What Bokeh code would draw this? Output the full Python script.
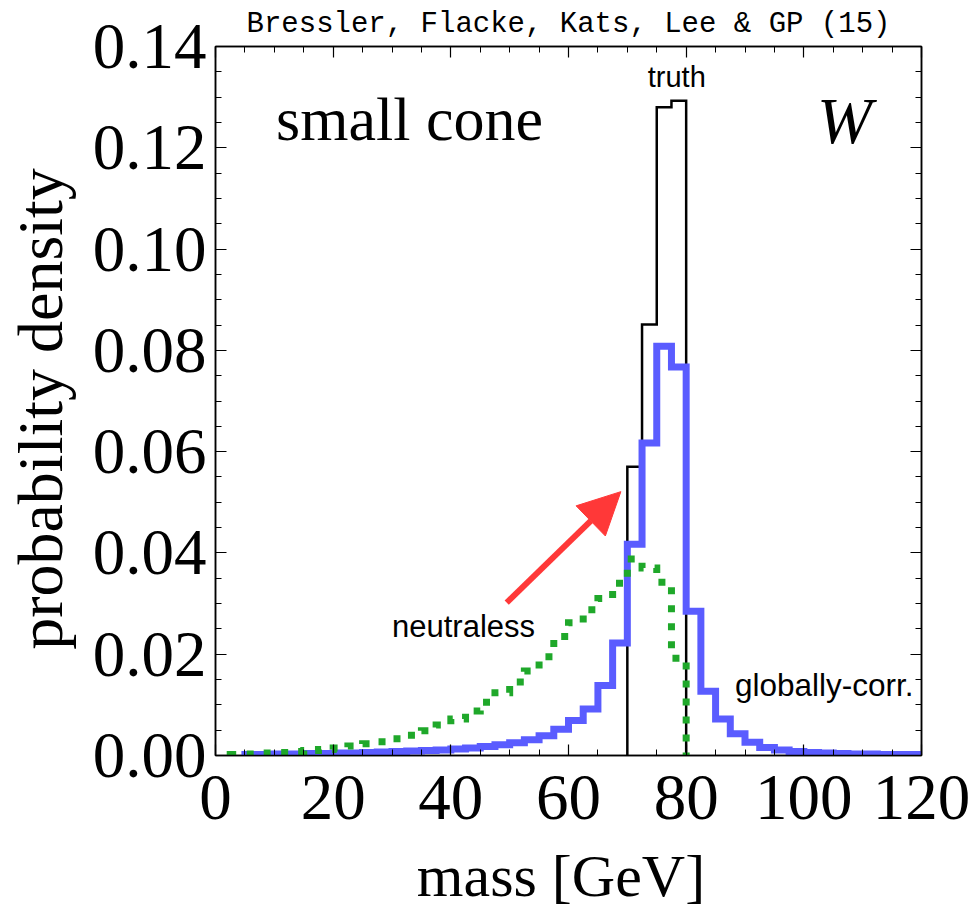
from bokeh.plotting import figure
from bokeh.models import (Range1d, LinearAxis, SingleIntervalTicker,
                          NumeralTickFormatter, Label, Arrow, NormalHead)
from bokeh.embed import file_html
from bokeh.resources import INLINE

# ---- histogram data (probability density per 2.5 GeV bin) ----
bin_width = 2.5

truth_start = 70.0
truth_vals = [0.0570, 0.0851, 0.1280, 0.1293]

glob_start = 5.0
glob_vals = [
    0.0002, 0.0002, 0.0003, 0.0003, 0.0004, 0.0004, 0.0005, 0.0005,   # 5-25
    0.0006, 0.0007, 0.0008, 0.0009, 0.0010, 0.0011, 0.0013, 0.0015,   # 25-45
    0.0018, 0.0021, 0.0025, 0.0031, 0.0039, 0.0052, 0.0069, 0.0092,   # 45-65
    0.0138, 0.0222, 0.0417, 0.0617, 0.0808, 0.0767, 0.0285, 0.0127,   # 65-85
    0.0072, 0.0043, 0.0026, 0.0016, 0.0011, 0.0008, 0.0006, 0.0005,   # 85-105
    0.0004, 0.0003, 0.0003, 0.0002, 0.0002, 0.0002,                   # 105-120
]

neutral_start = 2.5
neutral_vals = [
    0.0002, 0.0003, 0.0005, 0.0006, 0.0008, 0.0010, 0.0012, 0.0015,   # 2.5-22.5
    0.0019, 0.0023, 0.0027, 0.0033, 0.0040, 0.0049, 0.0060, 0.0072,   # 22.5-42.5
    0.0088, 0.0105, 0.0124, 0.0145, 0.0167, 0.0195, 0.0235, 0.0262,   # 42.5-62.5
    0.0288, 0.0310, 0.0340, 0.0388, 0.0370, 0.0342, 0.0192,           # 62.5-80
]

x_ticks_major = 20
y_ticks_major = 0.02


def step_outline(start, vals, width, close_right=True):
    """Histogram outline: rises from zero at the first edge, falls to zero at the last."""
    xs, ys = [start], [0.0]
    for i, v in enumerate(vals):
        left = start + i * width
        xs += [left, left + width]
        ys += [v, v]
    if close_right:
        xs.append(start + len(vals) * width)
        ys.append(0.0)
    return xs, ys


SERIF = "Liberation Serif"
SANS = "Liberation Sans"

p = figure(width=971, height=914,
           x_range=Range1d(0, 120), y_range=Range1d(0, 0.14),
           output_backend="svg", toolbar_location=None,
           min_border_left=215, min_border_right=50,
           min_border_top=45, min_border_bottom=159,
           background_fill_color="white", border_fill_color="white",
           x_axis_label="mass  [GeV]", y_axis_label="probability  density",
           title="Bressler, Flacke, Kats, Lee & GP (15)")

p.title.text_font = "Liberation Mono"
p.title.text_font_size = "29px"
p.title.text_font_style = "normal"
p.title.align = "center"
p.title.text_color = "black"
p.title.standoff = 11

p.xgrid.visible = False
p.ygrid.visible = False
p.outline_line_color = "black"
p.outline_line_width = 1.5

bottom_axis = p.below[0]
left_axis = p.left[0]
bottom_axis.ticker = SingleIntervalTicker(interval=x_ticks_major, num_minor_ticks=4)
left_axis.ticker = SingleIntervalTicker(interval=y_ticks_major, num_minor_ticks=4)
left_axis.formatter = NumeralTickFormatter(format="0.00")

top_axis = LinearAxis(ticker=SingleIntervalTicker(interval=x_ticks_major, num_minor_ticks=4))
right_axis = LinearAxis(ticker=SingleIntervalTicker(interval=y_ticks_major, num_minor_ticks=4))
p.add_layout(top_axis, "above")
p.add_layout(right_axis, "right")

for ax in [bottom_axis, left_axis, top_axis, right_axis]:
    ax.major_tick_in = 11
    ax.major_tick_out = 0
    ax.minor_tick_in = 6
    ax.minor_tick_out = 0
    ax.axis_line_color = "black"
    ax.axis_line_width = 1.5
    ax.major_tick_line_color = "black"
    ax.minor_tick_line_color = "black"
    ax.major_tick_line_width = 1.2
    ax.minor_tick_line_width = 1.0
    ax.major_label_text_font = SERIF
    ax.major_label_text_font_size = "65px"
    ax.major_label_text_color = "black"
    ax.axis_label_text_font = SERIF
    ax.axis_label_text_font_style = "normal"
    ax.axis_label_text_color = "black"

for ax in [top_axis, right_axis]:
    ax.major_label_text_font_size = "0px"
    ax.major_label_standoff = 0

bottom_axis.major_label_standoff = 20
bottom_axis.axis_label_text_font_size = "60px"
bottom_axis.axis_label_standoff = 21
left_axis.major_label_standoff = 9
left_axis.axis_label_text_font_size = "64px"
left_axis.axis_label_standoff = 14

# ---- histograms ----
tx, ty = step_outline(truth_start, truth_vals, bin_width)
p.line(tx, ty, line_color="black", line_width=2.5, line_join="miter")

gx, gy = step_outline(glob_start, glob_vals, bin_width, close_right=False)
p.line(gx, gy, line_color="#5a5cff", line_width=7, line_join="miter")

nx, ny = step_outline(neutral_start, neutral_vals, bin_width)
p.line(nx, ny, line_color="#1fa82a", line_width=7, line_dash="7 11",
       line_cap="butt", line_join="miter")

# ---- arrow pointing at the truth peak ----
p.add_layout(Arrow(x_start=49.5, y_start=0.0302, x_end=68.9, y_end=0.0521,
                   line_color="#ff3838", line_width=6,
                   end=NormalHead(size=42, fill_color="#ff3838",
                                  line_color="#ff3838", line_width=1)))

# ---- text inside the frame ----
def add_text(x, y, text, font, size, align="left", style="normal"):
    p.add_layout(Label(x=x, y=y, text=text, text_font=font, text_font_size=size,
                       text_align=align, text_baseline="alphabetic",
                       text_font_style=style, text_color="black"))

add_text(10.3, 0.1256, "small cone", SERIF, "62px")
add_text(106.9, 0.1254, "W", SERIF, "66px", align="center", style="italic")
add_text(78.4, 0.1339, "truth", SANS, "29px", align="center")
add_text(30.0, 0.0255, "neutraless", SANS, "31px")
add_text(88.3, 0.0140, "globally-corr.", SANS, "31.5px")

open("out.html", "w").write(file_html(p, INLINE))
